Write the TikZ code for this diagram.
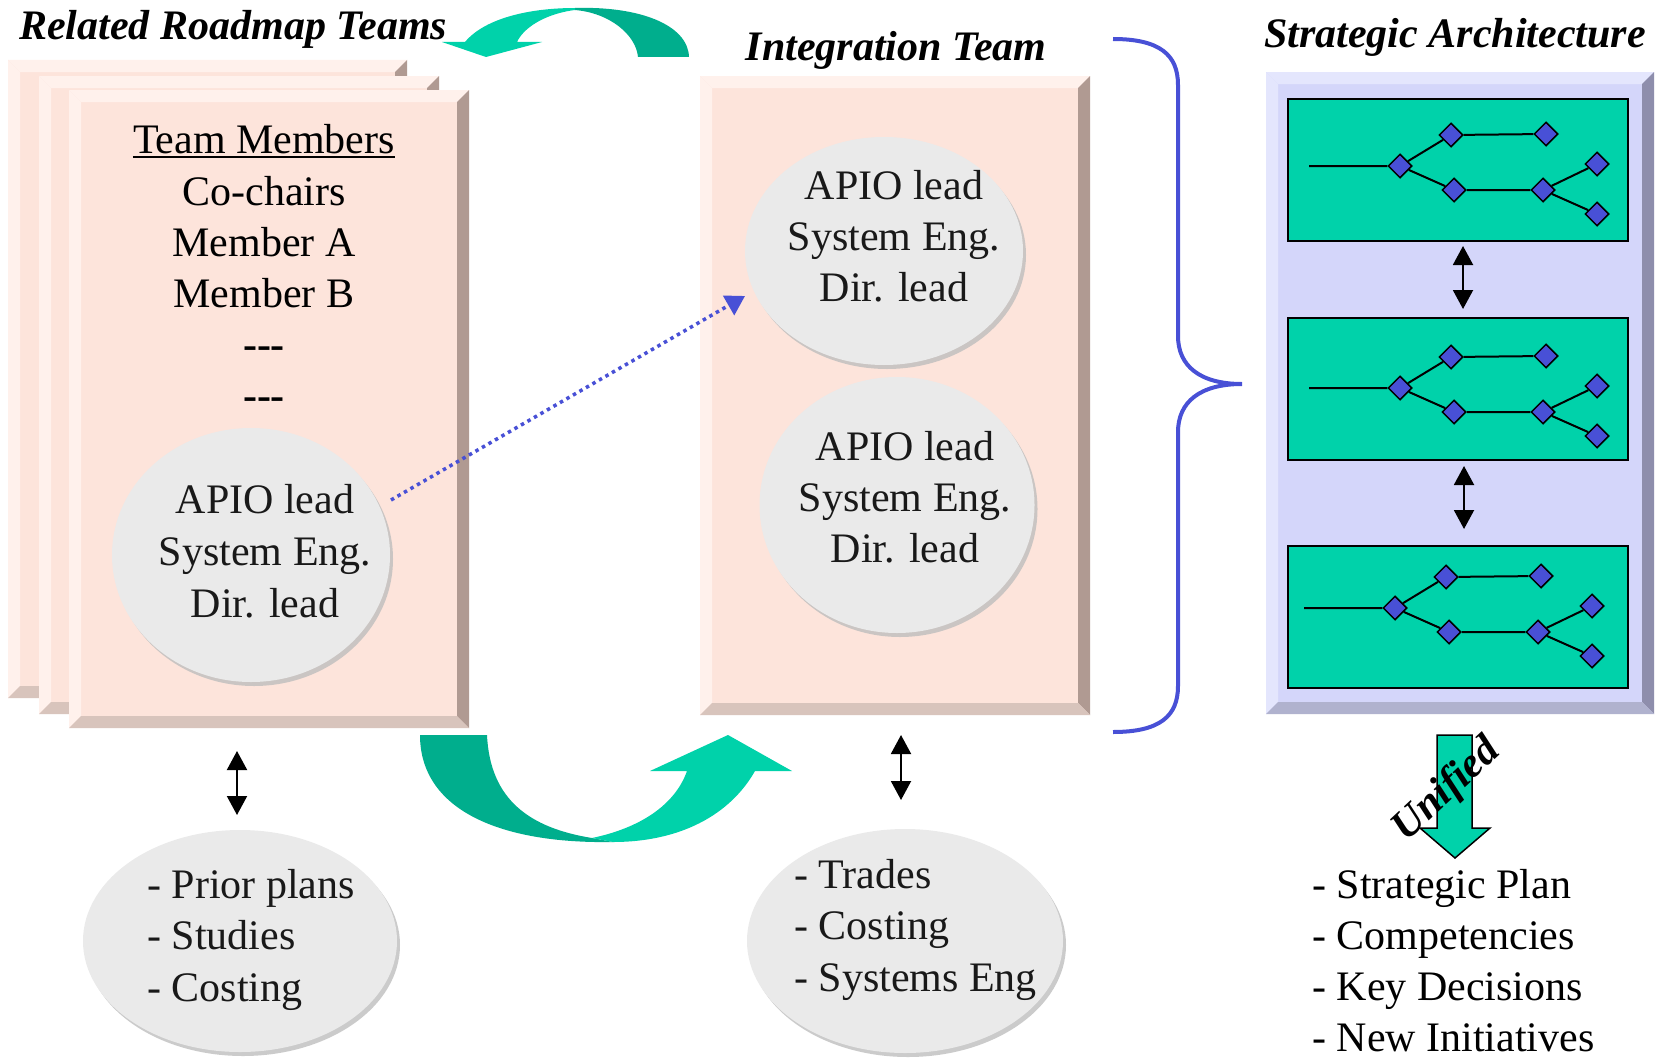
\documentclass[tikz,border=0pt]{standalone}
\usepackage{fontspec}
\setmainfont{Liberation Serif}
\usetikzlibrary{shapes.geometric,arrows.meta,calc,fit,shadows}

\definecolor{pkface}{RGB}{253,228,219}
\definecolor{pklight}{RGB}{255,241,236}
\definecolor{pkdark}{RGB}{176,154,146}
\definecolor{pkmid}{RGB}{216,196,188}
\definecolor{lvface}{RGB}{212,214,250}
\definecolor{lvlight}{RGB}{228,230,253}
\definecolor{lvdark}{RGB}{142,142,172}
\definecolor{lvmid}{RGB}{176,178,206}
\definecolor{tealL}{RGB}{0,210,170}
\definecolor{tealD}{RGB}{0,174,141}
\definecolor{dblue}{RGB}{72,80,214}
\definecolor{ellfill}{RGB}{234,234,234}
\definecolor{ellshadow}{RGB}{190,190,190}
\definecolor{inktext}{RGB}{25,25,25}

% name, x1, y1, x2, y2, colour prefix, bevel
\newcommand\bevelbox[7]{%
  \node[fit={(#2,#3) (#4,#5)}, inner sep=0pt, outer sep=0pt, fill=#6face] (#1) {};
  \fill[#6light] (#1.north west) -- (#1.south west) -- ++(#7,-#7) -- ($(#1.north west)+(#7,#7)$) -- cycle;
  \fill[#6light] (#1.north west) -- (#1.north east) -- ++(-#7,#7) -- ($(#1.north west)+(#7,#7)$) -- cycle;
  \fill[#6dark] (#1.north east) -- (#1.south east) -- ++(-#7,-#7) -- ($(#1.north east)+(-#7,#7)$) -- cycle;
  \fill[#6mid] (#1.south west) -- (#1.south east) -- ++(-#7,-#7) -- ($(#1.south west)+(#7,-#7)$) -- cycle;
}
% prefix, x, y0, dy, anchor, style, list
\newcommand\textlines[7]{%
  \foreach \t [count=\i] in {#7} {\node[#6, anchor=#5] (#1\i) at (#2, {#3+(\i-1)*#4}) {\t};}
}
% name, x, y, dx, dy
\newcommand\archpanel[5]{%
  \node[panelbox, anchor=north west] (#1) at (#2,#3) {};
  \begin{scope}[shift={(#2+#4,#3+#5)}]
    \coordinate (#1s) at (22,68);
    \node[dmd] (#1a) at (113,68) {};
    \node[dmd] (#1b) at (164,37) {};
    \node[dmd] (#1c) at (259,36) {};
    \node[dmd] (#1d) at (167,92) {};
    \node[dmd] (#1e) at (256,92) {};
    \node[dmd] (#1f) at (310,66) {};
    \node[dmd] (#1g) at (310,116) {};
    \draw[line width=2pt] (#1s) -- (#1a) (#1a) -- (#1b) (#1b) -- (#1c)
      (#1a) -- (#1d) (#1d) -- (#1e) (#1e) -- (#1f) (#1e) -- (#1g);
  \end{scope}
}

\begin{document}
\begin{tikzpicture}[x=1pt,y=-1pt,
  txt/.style={font=\fontsize{42}{51}\selectfont, inner sep=0pt, text=black},
  etxt/.style={txt, text=inktext},
  ttl/.style={font=\fontsize{42}{51}\selectfont\bfseries\itshape, inner sep=0pt},
  ell/.style={ellipse, fill=ellfill, inner sep=0pt,
    drop shadow={shadow xshift=3pt, shadow yshift=-4pt, fill=ellshadow, opacity=0.8}},
  dbl/.style={{Triangle[width=20pt,length=19pt]}-{Triangle[width=20pt,length=19pt]}, line width=2pt},
  dotarrow/.style={draw=dblue, line width=3.5pt, dash pattern=on 3.5pt off 4pt,
    -{Triangle[width=22pt,length=19pt,fill=dblue]}},
  panelbox/.style={draw=black, line width=1.8pt, fill=tealL, minimum width=340pt, minimum height=142pt, inner sep=0pt},
  dmd/.style={diamond, fill=dblue, draw=black, line width=1.5pt, inner sep=0pt, minimum width=24pt, minimum height=24pt},
  brace/.style={draw=dblue, line width=4pt},
]
\useasboundingbox (0,0) rectangle (1659,1057);
\fill[white] (0,0) rectangle (1659,1057);

% ---------- left stack: Related Roadmap Teams ----------
\node[ttl, anchor=base west] (rtitle) at (19,40) {Related Roadmap Teams};
\bevelbox{rb3}{8}{60}{407}{698}{pk}{12}
\bevelbox{rb2}{39}{76}{439}{714}{pk}{12}
\bevelbox{rb1}{69}{90}{469}{728}{pk}{12}

\node[txt, anchor=base] (tm) at (264,153) {Team Members};
\draw[line width=2pt] ([yshift=-4pt]tm.base west) -- ([yshift=-4pt]tm.base east);
\textlines{mem}{264}{205}{51}{base}{txt}{Co-chairs,Member A,Member B}
\node[txt, anchor=base, font=\fontsize{42}{51}\selectfont\bfseries] (dash1) at (264,358) {-{}-{}-};
\node[txt, anchor=base, font=\fontsize{42}{51}\selectfont\bfseries] (dash2) at (264,409) {-{}-{}-};

\node[ell, minimum width=278pt, minimum height=254pt] (fe) at (251,555) {};
\textlines{fet}{265}{513}{52}{base}{etxt}{APIO lead,System Eng.,Dir. lead}

% ---------- Integration team ----------
\node[ttl, anchor=base] (ititle) at (896,61) {Integration Team};
\bevelbox{ib}{700}{76}{1090}{715}{pk}{12}
\node[ell, minimum width=278pt, minimum height=228pt] (ie1) at (884,251) {};
\textlines{iat}{894}{199}{51}{base}{etxt}{APIO lead,System Eng.,Dir. lead}
\node[ell, minimum width=275pt, minimum height=256pt] (ie2) at (897,505) {};
\textlines{ibt}{905}{460}{51}{base}{etxt}{APIO lead,System Eng.,Dir. lead}

% dotted link
\coordinate (dotA) at (391,500);
\coordinate (dotB) at (745,296);
\draw[dotarrow] (dotA) -- (dotB);

% ---------- brace ----------
\draw[brace] (1113,39) .. controls (1160,39) and (1178,55) .. (1178,85)
  -- (1178,336) .. controls (1178,366) and (1200,384) .. (1242,384)
  .. controls (1200,384) and (1178,402) .. (1178,432)
  -- (1178,686) .. controls (1178,716) and (1160,732) .. (1113,732);

% ---------- Strategic Architecture ----------
\node[ttl, anchor=base] (stitle) at (1455,48) {Strategic Architecture};
\bevelbox{sb}{1266}{72}{1654}{714}{lv}{12}
\archpanel{pa}{1287}{98}{0}{0}
\archpanel{pb}{1287}{317}{0}{3}
\archpanel{pc}{1287}{545}{-5}{-5}
\coordinate (sa1) at (1463,246);
\coordinate (sa2) at (1463,309);
\coordinate (sb1) at (1464,466);
\coordinate (sb2) at (1464,529);
\draw[dbl] (sa1) -- (sa2);
\draw[dbl] (sb1) -- (sb2);

% Unified arrow
\draw[fill=tealL, line width=1.5pt, line join=miter] (1437,735) -- (1472,735) -- (1472,828) -- (1490,828)
  -- (1455,858) -- (1420,828) -- (1437,828) -- cycle;
\node[ttl, rotate=43] (unified) at (1447,790) {Unified};
\textlines{out}{1312}{898}{51.3}{base west}{txt}{- Strategic Plan,- Competencies,- Key Decisions,- New Initiatives}

% ---------- bottom ellipses ----------
\coordinate (la1) at (237,751);
\coordinate (la2) at (237,815);
\draw[dbl] (la1) -- (la2);
\node[ell, minimum width=314pt, minimum height=222pt] (le) at (240,941) {};
\textlines{lel}{147}{898}{51.5}{base west}{etxt}{- Prior plans,- Studies,- Costing}

\coordinate (ma1) at (901,735);
\coordinate (ma2) at (901,800);
\draw[dbl] (ma1) -- (ma2);
\node[ell, minimum width=316pt, minimum height=224pt] (me) at (905,941) {};
\textlines{mel}{794}{888}{51.5}{base west}{etxt}{- Trades,- Costing,- Systems Eng}

% ---------- green curved arrows ----------
% top (right to left)
\fill[tealD] (575,8) .. controls (640,6) and (688,25) .. (689,57) -- (638,57)
  .. controls (636,35) and (610,13) .. (575,10) -- cycle;
\fill[tealL] (575,10) .. controls (550,13) and (525,25) .. (517,42) -- (542,42) -- (486,57)
  -- (442,42) -- (465,42) .. controls (485,18) and (530,8) .. (575,8) -- cycle;
% bottom (left to right)
\fill[tealD] (420,735) -- (487,735) .. controls (490,800) and (530,828) .. (592,838)
  -- (613,842) .. controls (500,844) and (420,810) .. (420,735) -- cycle;
\fill[tealL] (592,838) .. controls (640,828) and (675,805) .. (687,771) -- (650,771) -- (728,735)
  -- (792,771) -- (755,771) .. controls (730,815) and (680,842) .. (613,842) -- cycle;
\end{tikzpicture}
\end{document}
